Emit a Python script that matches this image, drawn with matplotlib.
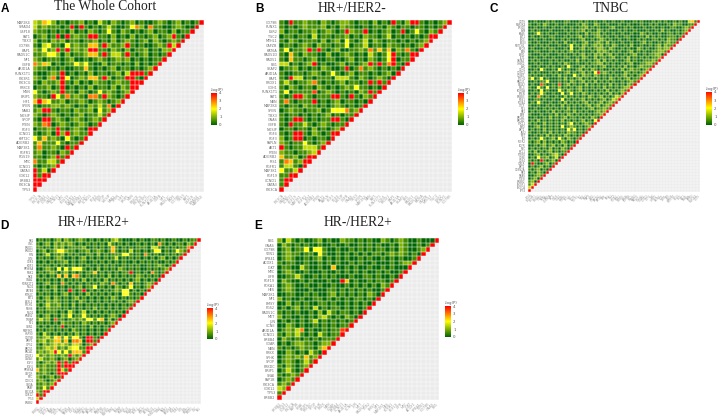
import numpy as np
import matplotlib
matplotlib.use('Agg')
import matplotlib.pyplot as plt
from matplotlib.colors import LinearSegmentedColormap

W, H = 719, 416

# Значения ячеек: цифра = -log(P) * 2, диагональ всегда 4
rows_a = """32542 01011 20103 10210 12010 01210 12010 1
31211 10180 81010 13100 14620 61100 12100
21101 01020 10210 14102 10101 20110 2011
01201 80812 11881 10201 02010 12012 810
20102 12011 01120 10201 21012 02101 21
10341 10412 11551 82112 81010 01218 3
21412 81812 12881 10210 20112 01022
11244 20201 12551 81331 81012 0101
21011 10120 01012 10121 20101 011
62530 10114 24100 20110 10201 01
21101 01001 15101 01201 10101 2
10012 18010 10201 10120 38881
21026 08401 21551 82011 8810
10211 28102 01021 10121 188
01120 18010 10201 10202 18
41012 18110 21014 12101 2
21108 41612 10661 82101
58541 12011 21012 1012
10112 21210 10213 160
12881 01102 11204 12
21012 10101 20113 1
10881 21012 10121
21670 12101 2101
01121 81012 108
10120 82812 11
41512 10410 1
15111 41011
16112 1081
12011 021
11012 81
61133 1
10112
8130
818
88
8
""".splitlines()

rows_b = """10811 21102 10122 10110 20108 10288 10101 2
10101 21112 01021 10010 11021 01101 10101
20110 11201 21018 21180 10120 18014 1021
01101 10301 10112 01021 10130 10101 018
10210 11102 01204 10130 21011 01010 12
01101 21021 10114 01130 11021 10101 2
14011 28181 01200 11216 15150 21610
10510 21100 20012 10103 10148 1018
10511 01200 11001 20102 10148 011
33010 12801 00120 10128 18168 10
01120 10102 10018 01612 10101 0
10011 01210 14101 20110 10120
10833 01011 10333 10210 1210
13101 12610 10120 11018 181
10210 11021 01012 14110 10
14011 11701 21010 10218 1
10188 21011 18810 81021
16101 11801 01201 1010
10110 21101 01210 101
01211 01120 14446 12
10110 10101 20101 1
10188 10101 18810
10811 31012 1011
01101 10201 012
10188 10210 18
20188 01011 0
21011 41012
81011 3331
21101 123
51120 18
16512 8
13310
4113
118
18
1
""".splitlines()

rows_c = """00100 01010 00110 00101 00100 10010 01000 10100 01010 10010 10035 1
10010 21001 00100 01021 00210 01000 10010 00100 10100 01021 10011
00100 10010 01001 00112 01010 00120 00101 00010 01001 00110 0121
01010 00100 00101 01120 10021 01000 10100 10001 00102 01001 012
00141 01001 00010 01002 01120 10010 01001 00210 10010 01101 01
01001 00110 00101 01201 00121 01001 00110 00102 01010 01110 1
00100 10010 01010 00120 01012 10100 10010 01010 01101 02110
10010 00101 00200 10012 00121 02010 01001 00120 10010 1211
00101 01000 10014 01021 01212 01021 00102 00100 10120 211
01000 10110 00104 00120 10122 10210 01010 02101 00121 22
00110 00101 01012 01010 01021 21010 10012 01010 01122 1
10001 01000 10100 10120 10212 01201 00101 20010 11220
00100 10010 00110 01021 00201 10120 01020 10101 0112
01010 00101 01001 02010 10120 20101 00120 10011 121
00101 00100 10210 01001 01122 01010 01012 00112 21
10010 01010 01041 00120 10101 20010 10201 01211 1
00104 10010 41010 01201 02101 00101 02012 11012
01010 00101 00120 10120 10481 21010 00210 1012
10100 10010 20100 41021 10210 10101 01201 012
14014 01000 10201 01201 01010 10210 10120 11
00101 14000 10102 10120 10201 01010 01012 1
01007 10010 70120 10102 01010 10201 01021
10041 04010 20101 01201 01010 20101 0122
00104 01000 41021 01201 00101 02010 121
01014 10010 04014 01021 01010 10201 02
10061 01001 00201 01010 21012 01013 2
00110 10010 04010 10120 10101 20132
01041 00100 10201 01012 01012 0121
10010 01010 02010 10101 20120 121
00100 10101 01020 10010 12011 21
01010 01020 10110 20101 00121 2
10001 00102 01021 01010 10112
00100 10201 01201 10101 0210
01020 10101 02010 10120 104
10100 20101 01024 01012 10
00120 10101 04012 10101 2
01010 20101 01041 40101
10010 10201 01021 1010
00101 02010 10210 101
01014 10120 41021 01
10120 20101 02101 0
00101 20120 10201
01010 10201 0210
10201 01201 011
00120 10123 10
01041 12013 0
10108 10120
08100 1201
01012 010
10120 10
01021 0
00121
0120
120
13
3
""".splitlines()

rows_d = """01010 12021 01210 10101 02310 00101 00110 10010 01011
10120 21212 10101 01010 31010 10010 10106 10101 1021
11010 21201 11120 01010 15101 01011 10331 01010 116
01201 24421 10112 01210 15101 03010 10144 01014 21
00130 11201 01001 10201 01114 41010 61010 01010 1
01010 12100 10120 10101 01301 01010 10101 20101
00101 01120 10110 01010 10101 00101 01010 0101
01010 10100 10101 00101 01001 01010 01012 101
00121 04041 44410 10201 01021 01010 01010 12
01012 10120 10101 15010 10101 18010 10610 1
10101 05050 56101 01010 20101 01021 01010
01010 10201 01020 10102 01010 10120 1010
00120 10610 10101 01021 06101 05010 121
10101 20101 01201 14010 10210 14010 12
10110 20108 10180 10101 01214 40101 0
01010 10120 10102 01010 10104 41010
10120 21010 12010 10101 02101 0101
01021 21010 10210 10101 01010 121
10131 12010 20101 01010 10101 01
01021 11010 10101 02010 10101 1
01011 10103 10130 10101 01010
10120 10214 01141 01010 1210
13120 71101 21214 41450 201
01010 10211 01021 01010 12
10101 01801 01010 20101 0
01011 01010 21010 10101
10310 10101 02010 1010
11231 45141 44108 810
12312 55150 66508 81
10212 32321 33201 2
11232 51213 44118
12123 84141 5551
41212 11218 212
13112 10120 12
10121 28181 8
11211 18188
51211 1831
11210 188
21012 01
12101 2
11212
1141
218
81
3
""".splitlines()

rows_e = """20310 10012 01002 11010 10021 01210 01000
02101 01001 00100 10010 10100 10210 0101
01201 14044 10010 01010 10110 10210 012
01211 01104 10010 10101 01101 21210 10
01210 01012 01010 10010 10010 10100 1
10110 01001 01010 01010 01000 10122
01100 31001 00500 10100 10010 1000
01210 01000 10010 10101 00101 001
00113 10010 10100 01001 10100 10
02100 10100 01008 50100 10110 1
01210 01001 00100 10101 01021
01210 00100 01101 01010 1001
00110 01010 01201 01010 210
20100 10011 01010 10110 10
00201 01001 10100 10101 0
01012 01030 10110 10101
10101 00102 03101 1010
20100 10102 31010 210
01010 10130 10101 01
00210 10010 10101 1
01213 60100 10117
10213 10103 1011
02101 01010 111
01012 21101 22
10101 21102 5
00210 10310
01212 1512
01210 131
10210 12
01310 1
10121
0121
121
32
1
""".splitlines()

genes_a = ['MAP2K4', 'SMAD4', 'USP18', 'FAT1', 'TBX3', 'CD79B', 'BAP1', 'RAD51C', 'NF1', 'CBFB',
           'ARID1A', 'RUNX1T1', 'PIK3R1', 'PIK3CG', 'PRKCE', 'MSN', 'BRIP1', 'HIF1', 'SPEN', 'NAB2',
           'NOSIP', 'SPOP', 'PTEN', 'FGF3', 'CCND1', 'KMT2C', 'ADGRB2', 'MAP3K1', 'FGFR1', 'RGS19',
           'MYC', 'CCND1', 'GATA3', 'CDK12', 'ERBB2', 'PIK3CA', 'TP53']
genes_b = ['CD79B', 'RUNX1', 'ESR2', 'TSC2', 'MTHL1', 'CAPZB', 'KAT6A', 'RAD51D', 'RAD51', 'RB1',
           'SKAP2', 'ARID1A', 'BAP1', 'PRDX1', 'CDH1', 'RUNX1T1', 'FAT1', 'NBN', 'MAP2K4', 'SPEN',
           'TBX3', 'GNAS', 'CBFB', 'NOSIP', 'FGF4', 'FGF3', 'PAPLN', 'AKT1', 'PTEN', 'ADGRB2',
           'IRS1', 'FGFR1', 'MAP3K1', 'FGF19', 'CCND1', 'GATA3', 'PIK3CA']
genes_c = ['CD79', 'MAP2K4', 'EP300', 'BLM', 'KRAS', 'FAT1', 'PIK3', 'TBX3', 'NOTCH2', 'MTOR',
           'ATR', 'ESR1', 'FLT1', 'GATA3', 'CHEK2', 'ALK', 'CDH1', 'CCND2', 'CCNE1', 'PTCH1',
           'RAD21', 'PALB2', 'MLL3', 'KDM6A', 'SPEN', 'ERBB3', 'ROS1', 'FOXA1', 'CTCF', 'NF1',
           'RB1', 'ATM', 'BRCA1', 'BRCA2', 'STK11', 'SMO', 'AKT2', 'JAK2', 'MET', 'KIT',
           'FGFR2', 'EGFR', 'MYC', 'MCL1', 'PTPRD', 'CDK6', 'CDK4', 'IGF1R', 'AKT1', 'CDKN2A',
           'RB2', 'NRAS', 'PTEN', 'ERBB2', 'PIK3R1', 'PIK3CA', 'TP53']
genes_d = ['RB1', 'UNC', 'PRKD1', 'PRKD2', 'FYN', 'GYN', 'CDK4', 'KDF3', 'RPS6KA', 'MSK1',
           'NKE', 'GNA2', 'RUNX1T1', 'NSD1', 'SATB4', 'KTM2C', 'FAT1', 'ASXL1', 'PTCH1', 'MSH6',
           'NSD2', 'KRAS2', 'TRRAP', 'NF1', 'GBN1', 'MAP3K1', 'HSP90', 'CD79B', 'BRIP1', 'CIP52',
           'RAD51', 'BRCA1', 'CCNB1', 'GATA3', 'FGF3', 'FGF4', 'RPS6KA', 'CSF1R', 'MYC', 'CCND1',
           'CHGA', 'BRAF', 'PIK3CA', 'CDK12', 'TP53', 'ERBB2']
genes_e = ['RB1', 'GNAS', 'CD79B', 'VEN1', 'EPB41', 'ACOX1', 'IGKT', 'MYC', 'LIFR', 'FGF19',
           'FOXA1', 'HES', 'MAP2K1', 'NF1', 'EMSY', 'PGS2', 'RAD51C', 'MET', 'JUN', 'CCNE',
           'ARID1A', 'CCND1', 'ERBB4', 'CDAR', 'NBN', 'PRKX', 'SPHK', 'SPOP', 'PRKDC', 'BRIP1',
           'SNAI', 'FAP1B', 'PIK3CA', 'CDK12', 'TP53', 'ERBB2']

titles = ['The Whole Cohort', 'HR+/HER2-', 'TNBC', 'HR+/HER2+', 'HR-/HER2+']
letters = ['A', 'B', 'C', 'D', 'E']

cmap = LinearSegmentedColormap.from_list('plog', ['#006400', '#ffff00', '#ff0000'])


def px_axes(fig, x0, y0, x1, y1):
    # координаты в пикселях от верхнего левого угла
    return fig.add_axes([x0 / W, 1 - y1 / H, (x1 - x0) / W, (y1 - y0) / H])


def make_matrix(rows):
    n = len(rows) + 1
    m = np.full((n, n), np.nan)
    for i in range(n):
        s = rows[i].replace(' ', '') if i < len(rows) else ''
        k = n - 1 - i
        s = s[:k].ljust(k, '0')
        for j, ch in enumerate(s):
            m[i, j] = int(ch) / 2
        m[i, k] = 4
    return m


def draw_panel(fig, rows, genes, box, cbox, title, tx, ty, letter, lx, ly, fs):
    ax = px_axes(fig, *box)
    m = make_matrix(rows)
    n = m.shape[0]
    ax.set_facecolor('#ebebeb')
    ax.pcolormesh(np.arange(n + 1), np.arange(n + 1), np.ma.masked_invalid(m), cmap=cmap,
                  vmin=0, vmax=4, edgecolors='none')
    for p in range(n + 1):
        ax.axhline(p, color='white', lw=0.35)
        ax.axvline(p, color='white', lw=0.35)
    ax.set_xlim(0, n)
    ax.set_ylim(n, 0)
    ax.set_yticks(np.arange(n) + 0.5)
    ax.set_yticklabels(genes[:n], fontsize=fs, color='#707070')
    ax.set_xticks(np.arange(n) + 0.5)
    ax.set_xticklabels(genes[:n][::-1], fontsize=fs, color='#a0a0a0', rotation=45, ha='right',
                       rotation_mode='anchor')
    ax.tick_params(length=0, pad=1.5)
    for s in ax.spines.values():
        s.set_visible(False)

    # легенда -log(P)
    cax = px_axes(fig, *cbox)
    grad = np.linspace(4, 0, 100).reshape(-1, 1)
    cax.imshow(grad, aspect='auto', cmap=cmap, vmin=0, vmax=4, extent=[0, 1, 0, 4])
    cax.set_xticks([])
    cax.set_yticks([0, 1, 2, 3, 4])
    cax.yaxis.tick_right()
    cax.tick_params(length=0, pad=1.5, labelsize=2.8, labelcolor='#555555')
    for s in cax.spines.values():
        s.set_visible(False)
    cax.text(0, 1.03, '-log(P)', transform=cax.transAxes, fontsize=2.8, ha='left', va='bottom',
             color='#555555')

    fig.text(tx / W, 1 - ty / H, title, family='Liberation Serif', fontsize=9.8, ha='center',
             va='center', color='#222222')
    fig.text(lx / W, 1 - ly / H, letter, family='Liberation Sans', fontsize=8.5, weight='bold',
             ha='center', va='center', color='black')


fig = plt.figure(figsize=(W / 100, H / 100), dpi=100)

draw_panel(fig, rows_a, genes_a, (32.7, 20, 204, 191.7), (211, 93, 217, 125),
           titles[0], 105, 6.5, letters[0], 5, 9.5, 2.4)
draw_panel(fig, rows_b, genes_b, (279.3, 20, 452, 191.7), (458, 93, 464, 125),
           titles[1], 352, 8, letters[1], 259, 9.5, 2.4)
draw_panel(fig, rows_c, genes_c, (527.7, 20, 700, 191.7), (706, 92, 712, 125),
           titles[2], 611, 8, letters[2], 494, 9.5, 1.8)
draw_panel(fig, rows_d, genes_d, (35.7, 238.3, 201, 404), (207, 308, 213, 339),
           titles[3], 94, 222, letters[3], 4, 226, 1.9)
draw_panel(fig, rows_e, genes_e, (277, 238.3, 439, 399.7), (445, 306, 451, 337),
           titles[4], 358, 222, letters[4], 258, 226, 2.4)

fig.savefig('out.png', dpi=100)
